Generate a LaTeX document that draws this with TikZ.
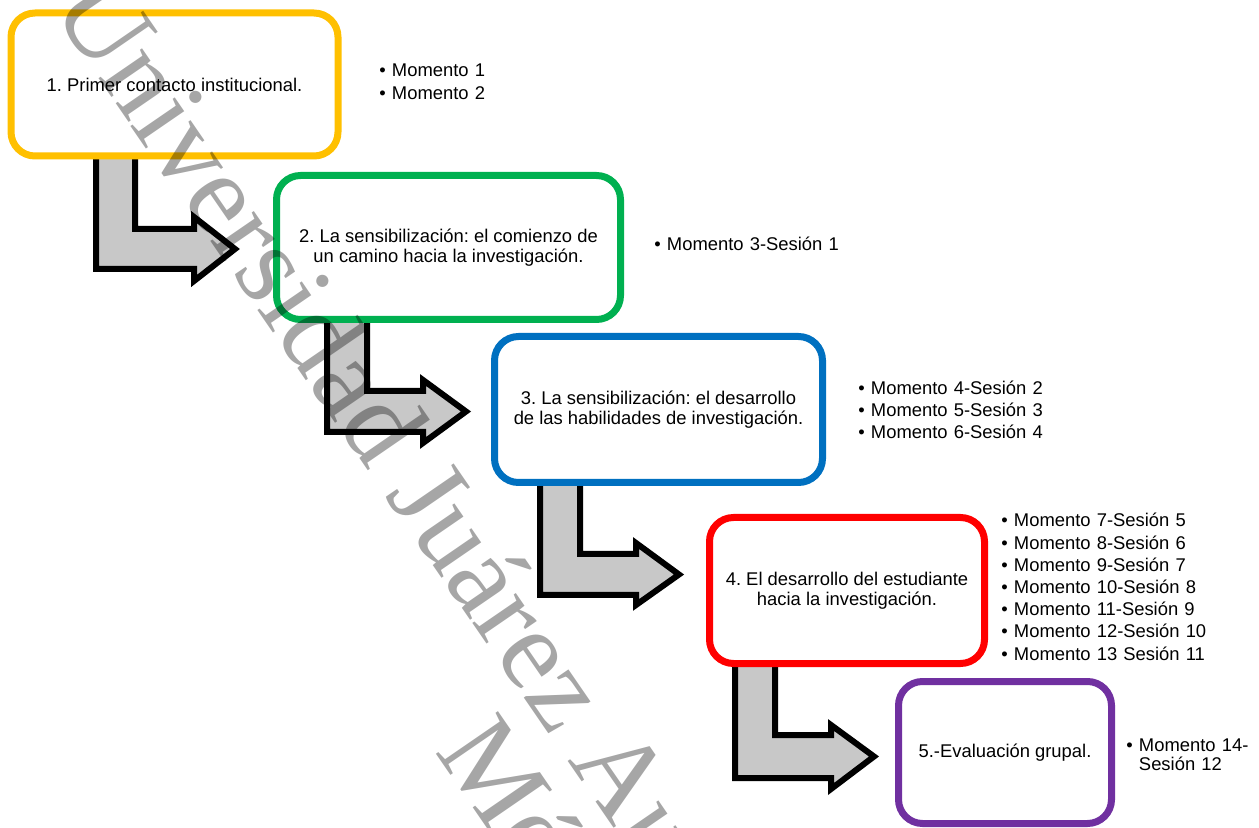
\documentclass[tikz,border=0pt]{standalone}
\usepackage{fontspec}
\setmainfont{Liberation Sans}
\newfontfamily\wmfont{Liberation Serif}
\frenchspacing

\definecolor{boxyellow}{RGB}{255,192,0}
\definecolor{boxgreen}{RGB}{0,176,80}
\definecolor{boxblue}{RGB}{0,112,192}
\definecolor{boxred}{RGB}{255,0,0}
\definecolor{boxpurple}{RGB}{112,48,160}
\definecolor{arrowgray}{RGB}{200,200,200}

\tikzset{
  stage/.style={draw, line width=3.5pt, rounded corners=12pt, fill=white, align=center,
    inner sep=0pt, font=\fontsize{9.2}{10}\selectfont},
  moments/.style={anchor=base west, align=left, text width=110pt, inner sep=0pt},
  bentarrow/.style={draw=black, line width=3pt, fill=arrowgray},
  wmark/.style={transform shape, anchor=base west, inner sep=0pt, text=black, text opacity=0.35,
    font=\wmfont\fontsize{57.5}{66}\selectfont}
}

\begin{document}
\begin{tikzpicture}[x=0.5pt, y=-0.5pt]
\useasboundingbox (0,0) rectangle (1259,828);

% arrows between the stages
\draw[bentarrow] (96,150) -- (96,269) -- (194,269) -- (194,281) -- (235,249) -- (194,217) -- (194,229) -- (135,229) -- (135,150) -- cycle;
\draw[bentarrow] (327,312) -- (327,432) -- (423,432) -- (423,443) -- (466,411.5) -- (423,380) -- (423,391) -- (367,391) -- (367,312) -- cycle;
\draw[bentarrow] (540,475) -- (540,595) -- (636,595) -- (636,605) -- (679,574.5) -- (636,543) -- (636,554) -- (580,554) -- (580,475) -- cycle;
\draw[bentarrow] (735,656) -- (735,778) -- (831,778) -- (831,789) -- (874,756.5) -- (831,725) -- (831,735) -- (775,735) -- (775,656) -- cycle;

% stages
\node[stage, draw=boxyellow, minimum width=163.5pt, minimum height=71.5pt] (b1) at (174.5,84.5) {1. Primer contacto institucional.};
\node[stage, draw=boxgreen, minimum width=172pt, minimum height=72pt] (b2) at (448.5,247.5) {2. La sensibilización: el comienzo de\\un camino hacia la investigación.};
\node[stage, draw=boxblue, minimum width=164pt, minimum height=73pt] (b3) at (658.5,409.5) {3. La sensibilización: el desarrollo\\de las habilidades de investigación.};
\node[stage, draw=boxred, minimum width=137.5pt, minimum height=73pt] (b4) at (847,590.5) {4. El desarrollo del estudiante\\hacia la investigación.};
\node[stage, draw=boxpurple, minimum width=106.5pt, minimum height=71pt] (b5) at (1005,752.5) {5.-Evaluación grupal.};

% moments of each stage
\node[moments, font=\fontsize{9.2}{11.5}\selectfont] (m1) at (379,77) {• Momento 1\\• Momento 2};
\node[moments, font=\fontsize{9.2}{11.2}\selectfont] (m2) at (654,251) {• Momento 3-Sesión 1};
\node[moments, font=\fontsize{9.2}{11}\selectfont] (m3) at (858,395) {• Momento 4-Sesión 2\\• Momento 5-Sesión 3\\• Momento 6-Sesión 4};
\node[moments, font=\fontsize{9.2}{11.1}\selectfont] (m4) at (1001,527) {• Momento 7-Sesión 5\\• Momento 8-Sesión 6\\• Momento 9-Sesión 7\\• Momento 10-Sesión 8\\• Momento 11-Sesión 9\\• Momento 12-Sesión 10\\• Momento 13 Sesión 11};
\node[moments, text width=80pt, font=\fontsize{9.2}{9.5}\selectfont] (m5) at (1126,751) {• Momento 14-\\\phantom{• }Sesión 12};

% watermark
\begin{scope}
\clip (0,0) rectangle (1259,828);
\begin{scope}[shift={(50,8)}, rotate=-55.5, x=1pt, y=1pt]
\node[wmark] (wm1) at (0,0) {Universidad Juárez Au};
\node[wmark] (wm2) at (415,-52) {Mé};
\end{scope}
\end{scope}

\end{tikzpicture}
\end{document}
